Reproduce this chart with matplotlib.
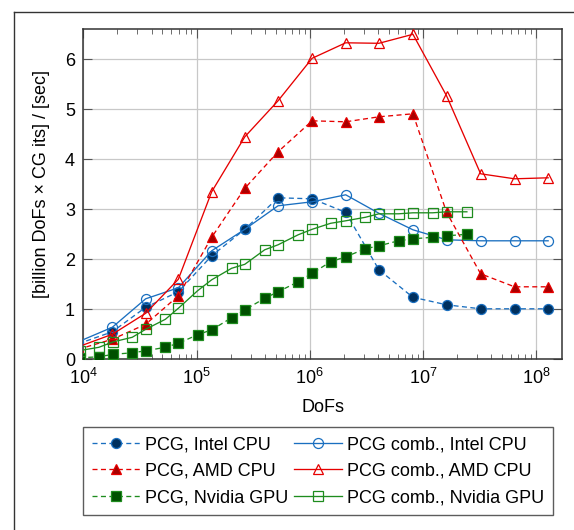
import matplotlib
matplotlib.use("Agg")
import matplotlib.pyplot as plt
from matplotlib.lines import Line2D
import numpy as np

plt.rcParams['font.family'] = ['Liberation Sans', 'DejaVu Sans']
plt.rcParams['mathtext.fontset'] = 'custom'
plt.rcParams['mathtext.rm'] = 'Liberation Sans'
plt.rcParams['mathtext.it'] = 'Liberation Sans:italic'
plt.rcParams['font.size'] = 13

# ---- data ----
cpu_dofs = [9.0e3, 1.8e4, 3.55e4, 6.9e4, 1.36e5, 2.67e5, 5.25e5, 1.05e6, 2.08e6,
            4.09e6, 8.17e6, 1.62e7, 3.24e7, 6.46e7, 1.28e8]
pcg_intel = [0.31, 0.55, 1.04, 1.35, 2.07, 2.60, 3.23, 3.21, 2.94, 1.79, 1.24, 1.09, 1.01, 1.01, 1.01]
comb_intel = [0.35, 0.64, 1.21, 1.43, 2.17, 2.60, 3.07, 3.15, 3.29, 2.92, 2.59, 2.39, 2.37, 2.37, 2.37]
pcg_amd = [0.20, 0.40, 0.70, 1.27, 2.44, 3.42, 4.15, 4.77, 4.75, 4.85, 4.91, 2.94, 1.71, 1.45, 1.45]
comb_amd = [0.25, 0.50, 0.92, 1.60, 3.35, 4.45, 5.17, 6.02, 6.33, 6.32, 6.50, 5.27, 3.71, 3.61, 3.63]

gpu_dofs = [9.3e3, 1.37e4, 1.84e4, 2.7e4, 3.55e4, 5.3e4, 6.9e4, 1.02e5, 1.36e5, 2.04e5,
            2.67e5, 4.0e5, 5.25e5, 7.9e5, 1.05e6, 1.53e6, 2.08e6, 3.1e6, 4.09e6,
            6.1e6, 8.17e6, 1.22e7, 1.62e7, 2.45e7]
pcg_gpu = [0.03, 0.05, 0.10, 0.13, 0.17, 0.24, 0.32, 0.49, 0.59, 0.83, 0.99, 1.22, 1.35,
           1.55, 1.72, 1.95, 2.05, 2.21, 2.27, 2.37, 2.41, 2.44, 2.47, 2.50]
comb_gpu = [0.175, 0.24, 0.35, 0.44, 0.60, 0.80, 1.02, 1.37, 1.59, 1.82, 1.90, 2.19, 2.29,
            2.49, 2.60, 2.72, 2.77, 2.84, 2.91, 2.91, 2.93, 2.93, 2.95, 2.95]

labels = ["PCG, Intel CPU", "PCG comb., Intel CPU",
          "PCG, AMD CPU", "PCG comb., AMD CPU",
          "PCG, Nvidia GPU", "PCG comb., Nvidia GPU"]
y_ticks = [0, 1, 2, 3, 4, 5, 6]

# ---- styles ----
blue = '#1a6fc0'
navy = '#00305e'
red = '#e60000'
dred = '#a80000'
green = '#1e8c1e'
dgreen = '#005000'
dash = (3.8, 2.6)

fig = plt.figure(figsize=(5.74, 5.30), dpi=100)
ax = fig.add_axes([83.4/574, 1-359.3/530, (561.7-83.4)/574, (359.3-29.3)/530])

lw = 0.95
ms = 7.2
mew = 0.9
h1, = ax.plot(cpu_dofs, pcg_intel, color=blue, lw=lw, dashes=dash, marker='o', ms=ms,
              mfc=navy, mec=blue, mew=mew, label=labels[0], zorder=5)
h2, = ax.plot(cpu_dofs, comb_intel, color=blue, lw=lw, marker='o', ms=ms,
              mfc='none', mec=blue, mew=mew, label=labels[1], zorder=5)
h3, = ax.plot(cpu_dofs, pcg_amd, color=red, lw=lw, dashes=dash, marker='^', ms=ms,
              mfc=dred, mec=red, mew=mew, label=labels[2], zorder=5)
h4, = ax.plot(cpu_dofs, comb_amd, color=red, lw=lw, marker='^', ms=ms,
              mfc='none', mec=red, mew=mew, label=labels[3], zorder=5)
h5, = ax.plot(gpu_dofs, pcg_gpu, color=green, lw=lw, dashes=dash, marker='s', ms=ms,
              mfc=dgreen, mec=green, mew=mew, label=labels[4], zorder=5)
h6, = ax.plot(gpu_dofs, comb_gpu, color=green, lw=lw, marker='s', ms=ms,
              mfc='none', mec=green, mew=mew, label=labels[5], zorder=5)

ax.set_xscale('log')
ax.set_xlim(1e4, 10**8.227)
ax.set_ylim(0, 6.6)
ax.set_yticks(y_ticks)
ax.grid(True, which='major', color='#c8c8c8', lw=0.9)
ax.set_axisbelow(True)
ax.tick_params(which='both', direction='in', top=True, right=True, color='#555555')
ax.tick_params(which='major', length=6.5, width=0.8, pad=6)
ax.tick_params(which='minor', length=3.6, width=0.6)
ax.xaxis.set_minor_locator(matplotlib.ticker.LogLocator(base=10, subs=np.arange(2, 10), numticks=20))
ax.xaxis.set_minor_formatter(matplotlib.ticker.NullFormatter())
for s in ax.spines.values():
    s.set_color('#333333')
    s.set_linewidth(1.1)

ax.set_xlabel('DoFs', labelpad=8)
ax.set_ylabel('[billion DoFs × CG its] / [sec]')
ax.yaxis.set_label_coords(-0.070, 0.53)

leg = fig.legend(handles=[h1, h3, h5, h2, h4, h6], ncol=2,
                 loc='upper left', bbox_to_anchor=(82.7/574, 1-427.3/530),
                 frameon=True, fancybox=False, edgecolor='#333333',
                 handlelength=2.65, handletextpad=0.3, columnspacing=0.3,
                 labelspacing=0.52, borderpad=0.5, borderaxespad=0)
leg.get_frame().set_linewidth(1.0)

# outer frame (partially visible)
fig.add_artist(Line2D([14/574, 14/574], [0, 1-12/530], transform=fig.transFigure,
                      color='#333333', lw=1.0))
fig.add_artist(Line2D([14/574, 1], [1-12/530, 1-12/530], transform=fig.transFigure,
                      color='#333333', lw=1.0))

fig.savefig('out.png', dpi=100)
